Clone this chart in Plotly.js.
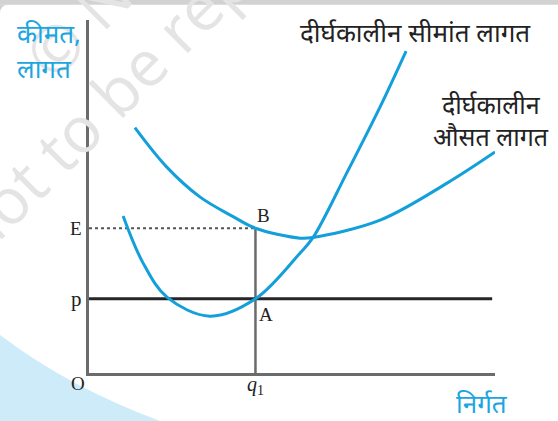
<!DOCTYPE html>
<html>
<head>
<meta charset="utf-8">
<script src="https://cdn.plot.ly/plotly-3.0.1.min.js"></script>
<style>
  html, body { margin: 0; padding: 0; background: #fff; }
  #myPlot { width: 558px; height: 421px; }
</style>
</head>
<body>
<div id="myPlot"></div>
<script>
// long run marginal cost (दीर्घकालीन सीमांत लागत)
var mcX = [8.4, 13.3, 19.2, 29.8, 41, 52.0, 55.2, 63.5, 71.7, 78.1];
var mcY = [44.5, 31.2, 21.5, 16.1, 21, 34.0, 38.4, 56.7, 75.4, 91.2];

// long run average cost (दीर्घकालीन औसत लागत)
var acX = [11.3, 19.1, 27.3, 35.5, 41, 52.0, 55.2, 71.7, 88.2, 100];
var acY = [69.5, 58.4, 49.9, 44.3, 41, 38.2, 38.4, 43.3, 53.8, 62.6];

// price, E level and output q1
var p = 21;
var E = 41;
var q1 = 41;
var pEnd = 99.3;

var blue = '#139fd9';
var txtBlue = '#1ba6e2';
var serif = 'Liberation Serif, DejaVu Serif, serif';
var deva = 'Noto Sans, sans-serif';
var wm = {family: 'Open Sans, sans-serif', size: 64, color: '#e4e4e4'};

var mc = {
  x: mcX, y: mcY, mode: 'lines', name: 'LRMC',
  line: {color: blue, width: 3, shape: 'spline', smoothing: 1}
};
var ac = {
  x: acX, y: acY, mode: 'lines', name: 'LRAC',
  line: {color: blue, width: 3, shape: 'spline', smoothing: 1}
};
var priceLine = {
  x: [0, pEnd], y: [p, p], mode: 'lines',
  line: {color: '#262626', width: 3}
};
var q1Line = {
  x: [q1, q1], y: [0, E], mode: 'lines',
  line: {color: '#6b6b6b', width: 2.5}
};
var eLine = {
  x: [0, q1], y: [E, E], mode: 'lines',
  line: {color: '#555', width: 2, dash: 'dot'}
};

var data = [eLine, q1Line, priceLine, ac, mc];

var layout = {
  width: 558, height: 421, autosize: false,
  margin: {l: 89, r: 63, t: 20, b: 48, pad: 0},
  paper_bgcolor: '#fff', plot_bgcolor: 'rgba(0,0,0,0)',
  showlegend: false,
  xaxis: {range: [0, 100], showline: true, linecolor: '#6b6b6b', linewidth: 3,
          showgrid: false, zeroline: false, showticklabels: false, ticks: ''},
  yaxis: {range: [0, 100], showline: true, linecolor: '#6b6b6b', linewidth: 3,
          showgrid: false, zeroline: false, showticklabels: false, ticks: ''},
  shapes: [
    // page frame at the top
    {type: 'rect', xref: 'paper', yref: 'paper', layer: 'below',
     x0: -0.3, x1: 1.2, y0: 1.043, y1: 1.1, fillcolor: '#d2d2d2', line: {width: 0}},
    {type: 'path', xref: 'paper', yref: 'paper', layer: 'below',
     path: 'M -0.2192,1.043 L -0.2192,1.018 Q -0.2192,1.043 -0.197,1.043 Z',
     fillcolor: '#d2d2d2', line: {width: 0}},
    // light blue swoosh bottom left
    {type: 'path', xref: 'paper', yref: 'paper', layer: 'below',
     path: 'M -0.2192,0.1076 Q -0.05,-0.04 0.1749,-0.136 L -0.2192,-0.136 Z',
     fillcolor: '#cdebf9', line: {width: 0}}
  ],
  annotations: [
    // faint watermark
    {xref: 'paper', yref: 'paper', x: 0.2537, y: 1.0142, xanchor: 'center', yanchor: 'middle',
     text: 'not to be republished', textangle: -45, showarrow: false, font: wm},
    {xref: 'paper', yref: 'paper', x: 0.1034, y: 1.1416, xanchor: 'center', yanchor: 'middle',
     text: '© NCERT', textangle: -45, showarrow: false, font: wm},

    {xref: 'paper', yref: 'paper', x: -0.182, y: 0.963, xanchor: 'left', yanchor: 'middle',
     text: 'कीमत,', showarrow: false, font: {family: deva, size: 26, color: txtBlue}},
    {xref: 'paper', yref: 'paper', x: -0.182, y: 0.864, xanchor: 'left', yanchor: 'middle',
     text: 'लागत', showarrow: false, font: {family: deva, size: 26, color: txtBlue}},
    {xref: 'paper', yref: 'paper', x: 0.804, y: 0.966, xanchor: 'center', yanchor: 'middle',
     text: 'दीर्घकालीन सीमांत लागत', showarrow: false, font: {family: deva, size: 26, color: '#222'}},
    {xref: 'paper', yref: 'paper', x: 0.992, y: 0.762, xanchor: 'center', yanchor: 'middle',
     text: 'दीर्घकालीन', showarrow: false, font: {family: deva, size: 25, color: '#222'}},
    {xref: 'paper', yref: 'paper', x: 0.989, y: 0.671, xanchor: 'center', yanchor: 'middle',
     text: 'औसत लागत', showarrow: false, font: {family: deva, size: 25, color: '#222'}},
    {xref: 'paper', yref: 'paper', x: 0.968, y: -0.085, xanchor: 'center', yanchor: 'middle',
     text: 'निर्गत', showarrow: false, font: {family: deva, size: 26, color: txtBlue}},

    {xref: 'paper', yref: 'y', x: -0.012, y: E, xanchor: 'right', yanchor: 'middle',
     text: 'E', showarrow: false, font: {family: serif, size: 19, color: '#222'}},
    {xref: 'paper', yref: 'y', x: -0.012, y: p, xanchor: 'right', yanchor: 'middle',
     text: 'p', showarrow: false, font: {family: serif, size: 21, color: '#222'}},
    {xref: 'paper', yref: 'paper', x: -0.005, y: -0.008, xanchor: 'right', yanchor: 'top', yshift: 5,
     text: 'O', showarrow: false, font: {family: serif, size: 19, color: '#222'}},
    {xref: 'x', yref: 'paper', x: q1, y: -0.008, xanchor: 'center', yanchor: 'top', yshift: 5,
     text: '<i>q</i><sub>1</sub>', showarrow: false, font: {family: serif, size: 20, color: '#222'}},
    {xref: 'x', yref: 'y', x: q1, y: E, xanchor: 'left', yanchor: 'bottom',
     text: 'B', showarrow: false, font: {family: serif, size: 19, color: '#222'}},
    {xref: 'x', yref: 'y', x: q1, y: p, xanchor: 'left', yanchor: 'top', xshift: 2, yshift: -3,
     text: 'A', showarrow: false, font: {family: serif, size: 19, color: '#222'}}
  ]
};

Plotly.newPlot('myPlot', data, layout, {displayModeBar: false, staticPlot: true});
</script>
</body>
</html>
